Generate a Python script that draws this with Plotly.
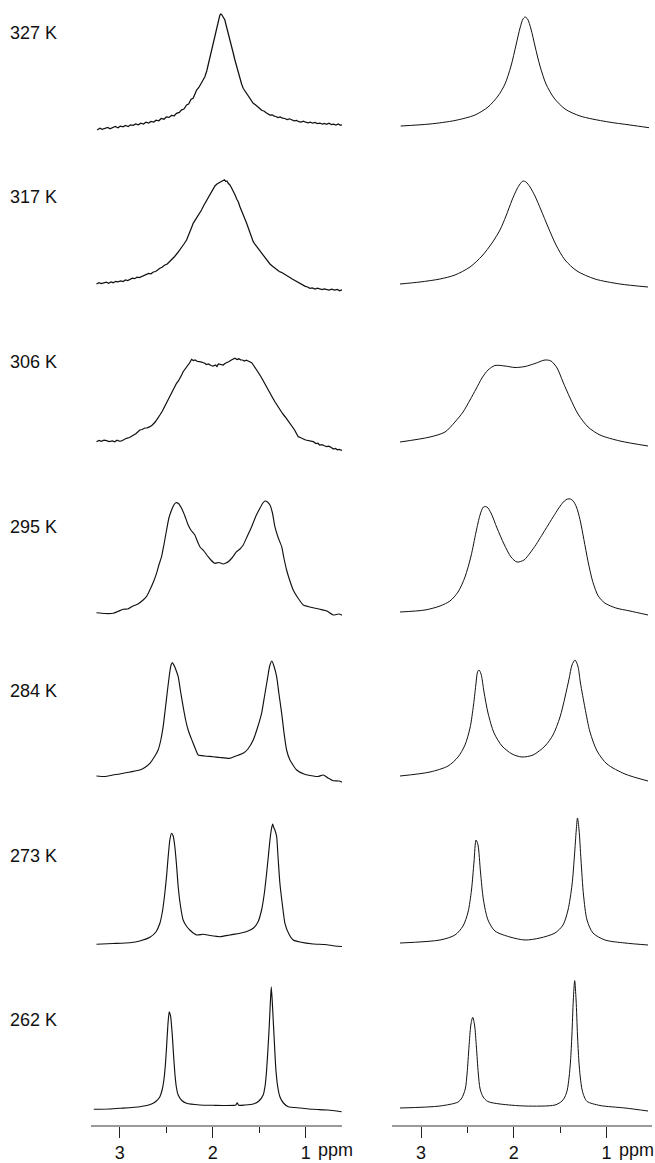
import plotly.graph_objects as go

W, H = 655, 1163

temps = ["327 K", "317 K", "306 K", "295 K", "284 K", "273 K", "262 K"]
tick_vals = [3, 2, 1]
tick_text = ["3", "2", "1"]
minor_vals = [2.5, 1.5]

exp_327 = [(3.244, 8), (3.215, 9.8), (3.19, 8.6), (3.16, 9.5), (3.13, 10.6), (3.105, 9.2), (3.08, 10.4),
           (3.05, 11.5), (3.02, 10.2), (2.995, 11.8), (2.965, 11.2), (2.94, 12.6), (2.91, 11.5), (2.885, 13.2),
           (2.855, 12.6), (2.83, 14), (2.80, 13.2), (2.775, 14.8), (2.745, 14), (2.72, 15.8), (2.69, 15),
           (2.665, 16.6), (2.635, 16), (2.61, 17.8), (2.58, 17.2), (2.555, 19.5), (2.525, 18.8), (2.50, 21),
           (2.47, 20.6), (2.445, 22.5), (2.415, 22.2), (2.39, 24.7), (2.36, 25.6), (2.335, 28.2), (2.31, 29),
           (2.282, 33), (2.26, 34), (2.235, 38.5), (2.21, 40), (2.19, 45), (2.174, 48), (2.15, 50.5),
           (2.13, 54), (2.11, 57), (2.085, 61.3), (2.065, 67), (2.05, 73), (2.03, 80), (2.013, 88),
           (1.998, 94), (1.985, 100), (1.97, 106), (1.959, 111.3), (1.947, 116), (1.935, 120), (1.925, 122.5),
           (1.916, 124), (1.905, 123.5), (1.895, 122), (1.882, 120.5), (1.870, 118), (1.857, 113),
           (1.845, 109), (1.83, 104), (1.816, 98), (1.80, 92.5), (1.78, 85), (1.762, 78), (1.744, 71.3),
           (1.727, 65), (1.71, 59), (1.69, 54), (1.673, 49.7), (1.65, 46.5), (1.62, 41), (1.595, 38.5),
           (1.565, 34.7), (1.545, 33.5), (1.52, 31), (1.495, 29.5), (1.47, 27.5), (1.45, 27), (1.43, 25.5),
           (1.405, 24.5), (1.385, 23), (1.36, 23.2), (1.34, 21.8), (1.32, 21.5), (1.30, 20.5), (1.275, 21),
           (1.25, 19.8), (1.225, 19.5), (1.20, 18.5), (1.175, 19.2), (1.15, 18.3), (1.125, 17.2),
           (1.098, 17.5), (1.075, 16.3), (1.05, 16), (1.025, 16.8), (1.00, 15.8), (0.975, 15.2), (0.95, 15.8),
           (0.925, 14.8), (0.90, 15.5), (0.875, 14.5), (0.847, 14.9), (0.82, 13.8), (0.80, 14.5),
           (0.775, 13.6), (0.75, 14.8), (0.725, 13.4), (0.70, 13.8), (0.675, 12.9), (0.65, 14), (0.625, 12.7),
           (0.60, 13.3), (0.58, 12.4), (0.56, 13)]
exp_317 = [(3.251, 18.5), (3.225, 19.8), (3.20, 18.9), (3.17, 19.6), (3.145, 20.4), (3.12, 19.3), (3.095, 20.5),
           (3.072, 19.8), (3.045, 21.2), (3.02, 20.6), (2.99, 21.5), (2.965, 21), (2.94, 22.5), (2.915, 22),
           (2.892, 23.2), (2.865, 24.3), (2.84, 23.8), (2.815, 25.3), (2.79, 25), (2.76, 26.2), (2.735, 26.5),
           (2.713, 27.5), (2.69, 29), (2.665, 28.7), (2.64, 30.5), (2.615, 31), (2.59, 33), (2.569, 34.2),
           (2.545, 35.2), (2.52, 37.2), (2.49, 38.5), (2.462, 40.8), (2.435, 43.5), (2.41, 46), (2.38, 49.5),
           (2.354, 52.5), (2.335, 54.5), (2.31, 58.5), (2.282, 62.5), (2.265, 66), (2.245, 71), (2.228, 75),
           (2.211, 79.2), (2.19, 82), (2.17, 85), (2.145, 88.5), (2.121, 92.5), (2.10, 96.5), (2.085, 99),
           (2.067, 102.5), (2.050, 105.8), (2.03, 109), (2.01, 112), (1.993, 114), (1.977, 116.5),
           (1.955, 118.5), (1.93, 120), (1.91, 121.2), (1.888, 121.8), (1.874, 122.8), (1.86, 121),
           (1.847, 121.5), (1.834, 119.2), (1.818, 117.8), (1.80, 115), (1.780, 111.8), (1.76, 107.5),
           (1.74, 103), (1.725, 100.5), (1.708, 95.8), (1.69, 91), (1.67, 87), (1.652, 83), (1.636, 79.2),
           (1.62, 75), (1.60, 70), (1.583, 65.5), (1.565, 60.8), (1.545, 58), (1.52, 55), (1.50, 51.5),
           (1.475, 49.2), (1.455, 46.5), (1.43, 44), (1.41, 41.5), (1.385, 38.5), (1.36, 36.5), (1.335, 34.5),
           (1.31, 33), (1.285, 31), (1.262, 30.2), (1.242, 29.2), (1.22, 27.5), (1.195, 26.5), (1.17, 25),
           (1.145, 23.5), (1.12, 22.2), (1.098, 20.8), (1.075, 19.5), (1.05, 18), (1.03, 17), (1.005, 16.2),
           (0.98, 15.5), (0.955, 14.2), (0.93, 14.5), (0.90, 13.5), (0.875, 14.3), (0.85, 13.6), (0.825, 12.8),
           (0.80, 13.7), (0.775, 13.2), (0.75, 12.5), (0.72, 13.4), (0.69, 12.3), (0.66, 13), (0.635, 11.8),
           (0.61, 12.6), (0.578, 11.8)]
exp_306 = [(3.251, 25.3), (3.225, 26.5), (3.20, 25.6), (3.17, 26.8), (3.143, 26.3), (3.115, 25.4), (3.08, 26),
           (3.055, 25.2), (3.03, 26.8), (3.005, 25.8), (2.982, 26), (2.955, 27.5), (2.928, 28.7), (2.895, 29.5),
           (2.86, 31.5), (2.825, 33.5), (2.785, 37), (2.76, 37.5), (2.73, 39), (2.705, 39.2), (2.677, 40.3),
           (2.65, 42), (2.62, 45), (2.595, 48), (2.569, 52), (2.545, 55.5), (2.52, 60), (2.50, 64),
           (2.480, 68.7), (2.455, 72.5), (2.43, 77), (2.41, 80), (2.390, 83.7), (2.37, 86), (2.35, 89),
           (2.335, 92), (2.319, 95.3), (2.295, 98), (2.27, 101), (2.25, 104), (2.228, 107.7), (2.21, 106.5),
           (2.19, 107), (2.165, 105.5), (2.139, 105.3), (2.11, 104.5), (2.085, 103.8), (2.07, 102.5),
           (2.045, 103), (2.02, 101.5), (1.996, 101), (1.97, 102), (1.955, 100.5), (1.94, 103), (1.915, 102.5),
           (1.888, 102), (1.87, 103.5), (1.851, 104.7), (1.825, 105.5), (1.80, 107), (1.78, 107.8),
           (1.762, 108.7), (1.74, 107.5), (1.72, 108.2), (1.70, 107.2), (1.68, 107), (1.66, 106), (1.64, 106.8),
           (1.62, 106), (1.60, 105), (1.582, 104.3), (1.56, 101.5), (1.54, 99), (1.515, 95.5), (1.493, 92),
           (1.465, 87.5), (1.44, 83), (1.41, 78.5), (1.385, 73.7), (1.355, 69), (1.33, 65), (1.305, 61),
           (1.278, 57), (1.25, 53.5), (1.22, 50), (1.195, 47), (1.170, 43.7), (1.145, 40), (1.12, 37),
           (1.10, 33.5), (1.081, 30.3), (1.06, 29.5), (1.04, 28.2), (1.02, 27.8), (1.00, 27), (0.975, 26.5),
           (0.945, 25.4), (0.919, 25.3), (0.89, 23.5), (0.87, 23.8), (0.85, 22), (0.825, 22.3), (0.80, 21.2),
           (0.775, 20.3), (0.75, 20.8), (0.725, 19.2), (0.70, 18), (0.68, 18.6), (0.66, 17.2), (0.64, 17.5),
           (0.615, 16.4), (0.596, 16.3)]
exp_295 = [(3.251, 18.8), (3.162, 18.0), (3.072, 18.2), (3.022, 20.0), (2.964, 22.2), (2.914, 22.5),
           (2.857, 25.5), (2.806, 27.5), (2.749, 31.5), (2.709, 35.5), (2.677, 41.5), (2.639, 49.5),
           (2.605, 58.2), (2.580, 66.5), (2.551, 74.8), (2.526, 86.5), (2.497, 101.5), (2.472, 113.5),
           (2.443, 121.5), (2.419, 126.5), (2.397, 128.8), (2.370, 128), (2.336, 123.2), (2.300, 115.5),
           (2.265, 106.5), (2.236, 101.5), (2.193, 96.5), (2.171, 91.5), (2.139, 84.8), (2.096, 80.5),
           (2.050, 74.8), (2.020, 71.5), (1.977, 68.2), (1.934, 69), (1.888, 67.5), (1.859, 68.5),
           (1.834, 69.8), (1.794, 73.5), (1.744, 79.8), (1.708, 82.5), (1.673, 86.5), (1.633, 94.5),
           (1.582, 104.8), (1.536, 115.5), (1.493, 123.2), (1.461, 128.5), (1.439, 130.5), (1.412, 129.5),
           (1.385, 126.5), (1.358, 118.5), (1.332, 104.8), (1.299, 94.5), (1.259, 84.8), (1.235, 73.5),
           (1.206, 61.5), (1.170, 50.5), (1.135, 41.5), (1.084, 33.5), (1.027, 26.5), (0.955, 24.5),
           (0.847, 22.2), (0.772, 20.5), (0.704, 16.5), (0.643, 17.5), (0.578, 14.8)]
exp_284 = [(3.251, 20), (3.162, 19.5), (3.075, 21), (3.000, 22), (2.892, 24), (2.785, 26), (2.731, 28.5),
           (2.677, 32.7), (2.629, 39), (2.588, 46), (2.559, 56), (2.534, 69.3), (2.512, 86), (2.491, 102.7),
           (2.467, 121), (2.449, 131), (2.433, 133.3), (2.413, 130), (2.392, 125), (2.372, 119.3),
           (2.349, 106), (2.319, 89.3), (2.292, 76), (2.265, 66), (2.238, 59), (2.211, 52.7), (2.182, 46),
           (2.157, 41), (2.085, 40), (1.996, 39.3), (1.924, 38.5), (1.816, 37.7), (1.751, 40), (1.673, 42.7),
           (1.622, 47), (1.565, 56), (1.520, 68), (1.475, 82.7), (1.445, 99), (1.414, 116), (1.388, 130),
           (1.364, 135), (1.339, 129), (1.313, 119.3), (1.288, 102), (1.259, 82.7), (1.235, 64), (1.206, 46),
           (1.170, 36), (1.098, 26), (1.019, 22), (0.919, 20), (0.869, 19.5), (0.812, 21), (0.761, 18),
           (0.704, 15.3), (0.643, 15), (0.578, 12.7)]
exp_273 = [(3.251, 16.2), (3.075, 17), (2.892, 17.8), (2.785, 19.5), (2.677, 23.2), (2.612, 28.5),
           (2.569, 37.2), (2.539, 50.5), (2.516, 67.2), (2.496, 85.5), (2.480, 103.8), (2.462, 120.5),
           (2.443, 127.2), (2.426, 124.5), (2.408, 113.8), (2.390, 95.5), (2.372, 73.8), (2.349, 55.5),
           (2.319, 40.5), (2.284, 34.5), (2.247, 30.5), (2.174, 25.5), (2.103, 26.2), (2.031, 25),
           (1.924, 23.8), (1.816, 25.5), (1.708, 27.2), (1.633, 29), (1.565, 32.2), (1.514, 38.5),
           (1.475, 50.5), (1.445, 67.5), (1.421, 87.2), (1.401, 105.5), (1.385, 120.5), (1.369, 131.5),
           (1.356, 136.5), (1.342, 132.5), (1.332, 130.5), (1.313, 123.8), (1.296, 100.5), (1.278, 77.2),
           (1.251, 55.5), (1.224, 37.2), (1.181, 26.5), (1.135, 20.5), (1.062, 18.5), (0.919, 16.5),
           (0.793, 16), (0.686, 14.5), (0.578, 13.8)]
exp_262 = [(3.280, 15.7), (3.108, 16), (3.000, 16.7), (2.785, 18.3), (2.659, 21), (2.607, 24), (2.569, 28.3),
           (2.545, 35), (2.526, 45), (2.510, 60), (2.497, 78.3), (2.483, 100), (2.469, 113.3), (2.454, 109),
           (2.437, 91.7), (2.422, 70), (2.408, 51.7), (2.392, 38), (2.372, 30), (2.333, 24.5), (2.282, 21.7),
           (2.139, 20), (1.996, 19.7), (1.870, 19.5), (1.751, 20), (1.737, 22.3), (1.722, 19.7), (1.654, 20),
           (1.565, 21), (1.504, 24), (1.458, 30), (1.436, 40), (1.421, 55), (1.407, 75), (1.393, 98.3),
           (1.382, 120), (1.371, 138.3), (1.361, 125), (1.350, 105), (1.336, 80), (1.321, 55), (1.301, 38),
           (1.278, 28.3), (1.240, 22), (1.188, 18.3), (1.062, 17), (0.919, 15.7), (0.761, 15), (0.614, 13.3)]

# simulated spectra (right)
sim_327 = [(3.219, 12), (2.903, 14), (2.634, 17.5), (2.418, 23), (2.278, 31), (2.170, 42), (2.095, 54),
           (2.030, 72), (1.976, 93), (1.933, 110), (1.901, 119), (1.879, 121), (1.852, 119), (1.815, 109),
           (1.772, 92), (1.718, 72), (1.653, 54), (1.567, 40), (1.448, 29), (1.287, 22), (0.999, 16.3),
           (0.748, 13), (0.543, 10.3)]
sim_317 = [(3.226, 18.5), (3.011, 20.5), (2.795, 23.5), (2.634, 27.5), (2.472, 35.5), (2.343, 46.5),
           (2.235, 59.5), (2.149, 72.5), (2.084, 86.5), (2.019, 102.5), (1.966, 113.5), (1.933, 118.5),
           (1.901, 121.5), (1.869, 120.5), (1.825, 115.5), (1.772, 106.5), (1.707, 92.5), (1.631, 75.5),
           (1.545, 57.5), (1.448, 42.5), (1.319, 31.5), (1.125, 23.5), (0.856, 18.5), (0.554, 15.5)]
sim_306 = [(3.226, 25), (2.903, 30), (2.741, 35), (2.634, 45), (2.547, 55), (2.472, 67), (2.407, 78),
           (2.343, 89), (2.278, 97), (2.203, 101.5), (2.095, 101), (1.987, 99.5), (1.879, 100.5),
           (1.772, 103.5), (1.664, 107), (1.599, 106), (1.534, 99), (1.470, 85), (1.394, 69), (1.308, 53),
           (1.200, 40), (1.071, 32), (0.856, 26), (0.554, 21)]
sim_295 = [(3.226, 19.5), (2.957, 21.5), (2.795, 25.5), (2.688, 30.5), (2.601, 39.5), (2.526, 54.5),
           (2.461, 75.5), (2.407, 99.5), (2.364, 116.5), (2.327, 124.5), (2.289, 124.5), (2.246, 118.5),
           (2.181, 103.5), (2.106, 87.5), (2.030, 74.5), (1.966, 69.5), (1.890, 71.5), (1.825, 78.5),
           (1.760, 87), (1.700, 96), (1.630, 106.5), (1.560, 117), (1.500, 125.5), (1.455, 130.5),
           (1.420, 132.5), (1.390, 132.5), (1.360, 130.5), (1.325, 124.5), (1.287, 112), (1.245, 92),
           (1.200, 70), (1.150, 50), (1.090, 35.5), (1.020, 28.5), (0.900, 23.5), (0.748, 20.5), (0.554, 16.5)]
sim_284 = [(3.226, 20), (2.903, 24), (2.709, 30), (2.601, 39), (2.526, 51), (2.472, 68), (2.434, 91),
           (2.407, 113), (2.391, 124), (2.375, 126), (2.353, 122), (2.321, 104), (2.278, 83), (2.213, 63),
           (2.127, 50), (2.019, 42), (1.912, 39), (1.793, 41), (1.664, 50), (1.578, 61), (1.502, 79),
           (1.448, 99), (1.405, 117), (1.373, 131), (1.341, 136), (1.310, 130), (1.282, 113), (1.233, 88),
           (1.179, 64), (1.103, 45), (0.996, 32), (0.802, 22), (0.554, 15)]
sim_273 = [(3.226, 17.5), (2.795, 20.5), (2.634, 25.5), (2.547, 34.5), (2.493, 48.5), (2.456, 70.5),
           (2.429, 98.5), (2.407, 120.5), (2.386, 115.5), (2.359, 88.5), (2.327, 60.5), (2.278, 40.5),
           (2.203, 29.5), (2.041, 23.5), (1.879, 20.5), (1.718, 22.5), (1.556, 27.5), (1.470, 35.5),
           (1.416, 50.5), (1.373, 75.5), (1.346, 105.5), (1.327, 130.5), (1.314, 142.5), (1.297, 130.5),
           (1.276, 100.5), (1.249, 65.5), (1.211, 40.5), (1.147, 27.5), (1.017, 20.5), (0.802, 17.5),
           (0.554, 15.5)]
sim_262 = [(3.226, 17), (2.795, 19), (2.600, 23), (2.560, 27), (2.523, 36), (2.503, 52), (2.483, 78),
           (2.463, 100), (2.443, 107.7), (2.423, 100), (2.403, 78), (2.383, 52), (2.363, 36), (2.330, 28),
           (2.280, 23.5), (2.149, 21), (1.879, 19), (1.556, 20), (1.480, 24), (1.450, 28), (1.424, 35),
           (1.404, 48), (1.389, 64), (1.374, 90), (1.359, 125), (1.344, 144.3), (1.329, 125), (1.314, 90),
           (1.299, 64), (1.284, 48), (1.264, 35), (1.240, 28), (1.210, 23.5), (1.071, 19.5), (0.802, 17),
           (0.554, 14)]

exp_curves = [exp_327, exp_317, exp_306, exp_295, exp_284, exp_273, exp_262]
sim_curves = [sim_327, sim_317, sim_306, sim_295, sim_284, sim_273, sim_262]

# ---------------- layout geometry (pixels) ----------------
col_px = [(91, 342), (392, 652)]
col_range = [[3.31, 0.61], [3.3125, 0.511]]
axis_line_px = 1125
row_step = 164.5

fig = go.Figure()
layout = dict(width=W, height=H, margin=dict(l=0, r=0, t=0, b=0),
              paper_bgcolor="white", plot_bgcolor="white", showlegend=False,
              font=dict(family="Liberation Sans, Arial, sans-serif", color="#111", size=18))

annotations = []
for k in range(7):
    bottom = axis_line_px - row_step * (6 - k)
    top = max(0.0, bottom - row_step)
    for c in range(2):
        i = k * 2 + c + 1
        xa = "x" if i == 1 else f"x{i}"
        ya = "y" if i == 1 else f"y{i}"
        curve = exp_curves[k] if c == 0 else sim_curves[k]
        xs = [p[0] for p in curve]
        ys = [p[1] for p in curve]
        if c == 0 and k < 3:
            line = dict(color="#111", width=1.25, shape="linear")
        elif c == 0:
            line = dict(color="#111", width=1.15, shape="spline", smoothing=0.5)
        else:
            line = dict(color="#111", width=1.0, shape="spline", smoothing=0.8)
        fig.add_trace(go.Scatter(x=xs, y=ys, mode="lines", xaxis=xa, yaxis=ya,
                                 hoverinfo="skip", line=line))
        x0, x1 = col_px[c]
        xkey = "xaxis" if i == 1 else f"xaxis{i}"
        ykey = "yaxis" if i == 1 else f"yaxis{i}"
        xdict = dict(domain=[x0 / W, x1 / W], range=col_range[c], anchor=ya,
                     showgrid=False, zeroline=False)
        if k == 6:
            xdict.update(showline=True, linecolor="#9a9a9a", linewidth=1.5,
                         ticks="outside", ticklen=11, tickwidth=1.2, tickcolor="#222",
                         tickmode="array", tickvals=tick_vals, ticktext=tick_text,
                         tickfont=dict(size=18, color="#111"),
                         minor=dict(tickmode="array", tickvals=minor_vals, ticks="outside",
                                    ticklen=6, tickwidth=1.2, tickcolor="#222"))
        else:
            xdict.update(visible=False)
        layout[xkey] = xdict
        layout[ykey] = dict(domain=[1 - bottom / H, 1 - top / H], range=[0, bottom - top],
                            visible=False, anchor=xa)
    annotations.append(dict(text=temps[k], x=8 / W, xref="paper", xanchor="left",
                            y=1 - (33 + row_step * k) / H, yref="paper", yanchor="middle",
                            showarrow=False, font=dict(size=18, color="#111")))

for c in range(2):
    xa = "x13" if c == 0 else "x14"
    annotations.append(dict(text="ppm", x=1, xref=xa, xanchor="left", xshift=10,
                            y=1 - 1150 / H, yref="paper", yanchor="middle",
                            showarrow=False, font=dict(size=18, color="#111")))

layout["annotations"] = annotations
fig.update_layout(**layout)
fig.write_html("out.html")
